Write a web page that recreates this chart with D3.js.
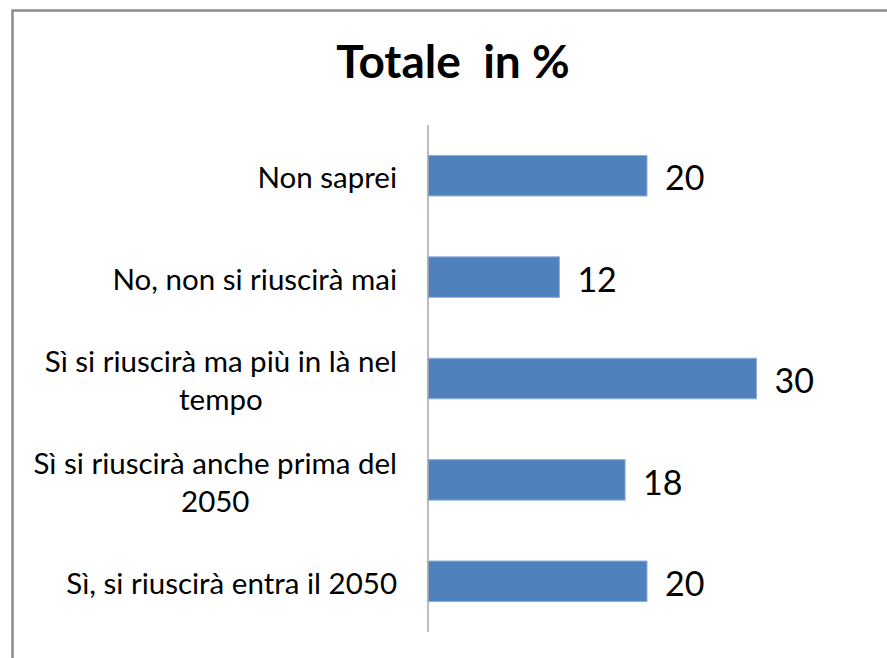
<!DOCTYPE html>
<html>
<head>
<meta charset="utf-8">
<script src="https://cdn.jsdelivr.net/npm/d3@7"></script>
<style>
  html, body { margin: 0; padding: 0; background: #fff; }
  svg { display: block; }
  text { font-family: Lato, "Open Sans", sans-serif; fill: #000; }
</style>
</head>
<body>
<svg id="chart" width="887" height="658"></svg>
<script>
// Data (top to bottom as shown)
const categories = [
  "Non saprei",
  "No, non si riuscirà mai",
  "Sì si riuscirà ma più in là nel tempo",
  "Sì si riuscirà anche prima del 2050",
  "Sì, si riuscirà entra il 2050"
];
const labelLines = [
  ["Non saprei"],
  ["No, non si riuscirà mai"],
  ["Sì si riuscirà ma più in là nel", "tempo"],
  ["Sì si riuscirà anche prima del", "2050"],
  ["Sì, si riuscirà entra il 2050"]
];
const values = [20, 12, 30, 18, 20];
const title = "Totale  in %";

const svg = d3.select("#chart");

// Frame (cut off at right and bottom)
svg.append("path")
  .attr("d", "M12.5,658 L12.5,10.5 L887,10.5")
  .attr("fill", "none")
  .attr("stroke", "#8c8c8c")
  .attr("stroke-width", 2.5);

// Title
svg.append("text")
  .attr("x", 453)
  .attr("y", 78)
  .attr("text-anchor", "middle")
  .attr("font-size", 46)
  .attr("font-weight", "bold")
  .style("white-space", "pre")
  .attr("xml:space", "preserve")
  .text(title);

const x = d3.scaleLinear().domain([0, 40]).range([428, 866]);
const y = d3.scaleBand().domain(categories).range([125, 632])
  .paddingInner(0.6).paddingOuter(0.3);

// Bars
svg.selectAll("rect.bar")
  .data(values)
  .join("rect")
  .attr("class", "bar")
  .attr("x", x(0))
  .attr("y", (d, i) => y(categories[i]))
  .attr("width", d => x(d) - x(0))
  .attr("height", y.bandwidth())
  .attr("fill", "#4F81BD")
  .attr("stroke", "#8FB1DD")
  .attr("stroke-width", 1);

// Axis line
svg.append("line")
  .attr("x1", x(0)).attr("x2", x(0))
  .attr("y1", 125).attr("y2", 632)
  .attr("stroke", "#a6a6a6")
  .attr("stroke-width", 1.5);

// Value labels
svg.selectAll("text.val")
  .data(values)
  .join("text")
  .attr("class", "val")
  .attr("x", d => x(d) + 18)
  .attr("y", (d, i) => y(categories[i]) + y.bandwidth() / 2 + 2.5)
  .attr("dy", "0.36em")
  .attr("font-size", 34)
  .text(d => d);

// Category labels
const labelRight = 397;
const lineH = 38;
const fs = 29.5;
labelLines.forEach((lines, i) => {
  const cy = y(categories[i]) + y.bandwidth() / 2;
  const g = svg.append("g");
  const texts = lines.map((ln, j) => g.append("text")
    .attr("font-size", fs)
    .attr("y", cy + 2 + (j - (lines.length - 1) / 2) * lineH)
    .attr("dy", "0.36em")
    .attr("text-anchor", "middle")
    .text(ln));
  const maxW = d3.max(texts, t => t.node().getComputedTextLength());
  texts.forEach(t => t.attr("x", labelRight - maxW / 2));
});
</script>
</body>
</html>
